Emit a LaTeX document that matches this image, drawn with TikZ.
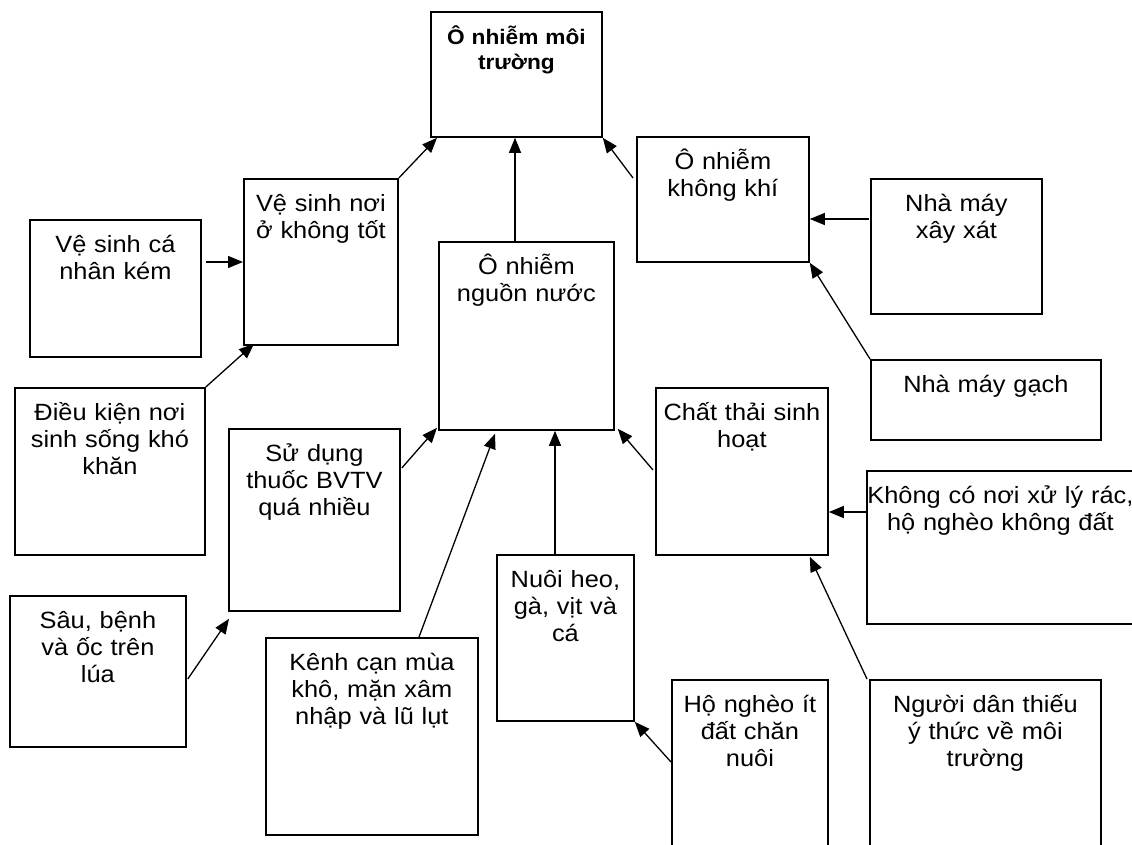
\documentclass[tikz,border=0pt]{standalone}
\usepackage{fontspec}
\setmainfont{Liberation Sans}[FakeStretch=1.08]
\usetikzlibrary{calc,arrows.meta}
\tikzset{
  box/.style={draw=black, line width=1.8pt, rectangle, inner sep=0pt},
  txt/.style={inner sep=0pt, align=center, font=\fontsize{23.5}{27}\selectfont},
  ttl/.style={inner sep=0pt, align=center, font=\fontsize{21}{25}\selectfont\bfseries},
  arr/.style={line width=1.3pt, -{Triangle[length=15pt,width=12pt]}}
}
\newcommand\bx[7][txt]{%
  \pgfmathsetmacro\bxw{#5-#3}\pgfmathsetmacro\bxh{#6-#4}\pgfmathsetmacro\bxt{#5-#3+60}%
  \node[box, anchor=north west, minimum width=\bxw pt, minimum height=\bxh pt] (#2) at (#3,#4) {};
  \node[#1, text width=\bxt pt, anchor=base] (#2-t) at ($(#2.north)+(0,33)$) {#7};
}
\begin{document}
\begin{tikzpicture}[x=1pt,y=-1pt]
\useasboundingbox (0,0) rectangle (1132,844);
\clip (0,0) rectangle (1132,844);
\fill[white] (0,0) rectangle (1132,844);
\bx[ttl]{top}{430}{11}{601}{136}{Ô nhiễm môi\\trường}
\bx{vsno}{243}{178}{397}{344}{Vệ sinh nơi\\ở không tốt}
\bx{vscn}{29}{219}{200}{356}{Vệ sinh cá\\nhân kém}
\bx{dk}{14}{387}{204}{554}{Điều kiện nơi\\sinh sống khó\\khăn}
\bx{onn}{438}{241}{613}{429}{Ô nhiễm\\nguồn nước}
\bx{okk}{636}{136}{808}{261}{Ô nhiễm\\không khí}
\bx{nmxx}{870}{178}{1041}{313}{Nhà máy\\xây xát}
\bx{nmg}{870}{359}{1100}{439}{Nhà máy gạch}
\bx{cts}{655}{387}{827}{554}{Chất thải sinh\\hoạt}
\bx{sd}{228}{428}{399}{610}{Sử dụng\\thuốc BVTV\\quá nhiều}
\bx{sb}{9}{595}{185}{746}{Sâu, bệnh\\và ốc trên\\lúa}
\bx{kc}{265}{637}{477}{834}{Kênh cạn mùa\\khô, mặn xâm\\nhập và lũ lụt}
\bx{nh}{496}{554}{633}{720}{Nuôi heo,\\gà, vịt và\\cá}
\bx{kcn}{866}{470}{1133}{623}{Không có nơi xử lý rác,\\hộ nghèo không đất}
\bx{hn}{671}{679}{827}{860}{Hộ nghèo ít\\đất chăn\\nuôi}
\bx{nd}{869}{679}{1100}{860}{Người dân thiếu\\ý thức về môi\\trường}
% connectors
\draw[arr] ($(vscn.north east)+(4,43)$) -- ($(vsno.north west)+(0,84)$);
\draw[arr] (vsno.north east) -- ($(top.south west)+(7,0)$);
\draw[arr] (dk.north east) -- ($(vsno.south west)+(11,-2)$);
\draw[arr] ($(onn.north west)+(77,0)$) -- ($(top.south west)+(85,0)$);
\draw[arr] ($(okk.north west)+(-3,42)$) -- (top.south east);
\draw[arr] ($(nmxx.north west)+(-1,41)$) -- ($(okk.north east)+(0,83)$);
\draw[arr] (nmg.north west) -- (okk.south east);
\draw[arr] ($(sd.north east)+(1,40)$) -- ($(onn.south west)+(-1,-3)$);
\draw[arr] ($(sb.north east)+(1,84)$) -- ($(sd.south west)+(1,7)$);
\draw[arr] ($(kc.north west)+(154,0)$) -- ($(onn.south west)+(57,3)$);
\draw[arr] ($(nh.north west)+(59,0)$) -- ($(onn.south west)+(117,0)$);
\draw[arr] ($(cts.north west)+(-2,83)$) -- ($(onn.south east)+(3,-2)$);
\draw[arr] ($(kcn.north west)+(0,42)$) -- ($(cts.north east)+(0,125)$);
\draw[arr] ($(nd.north west)+(-2,0)$) -- ($(cts.south east)+(-19,1)$);
\draw[arr] ($(hn.north west)+(0,83)$) -- (nh.south east);
\end{tikzpicture}
\end{document}
